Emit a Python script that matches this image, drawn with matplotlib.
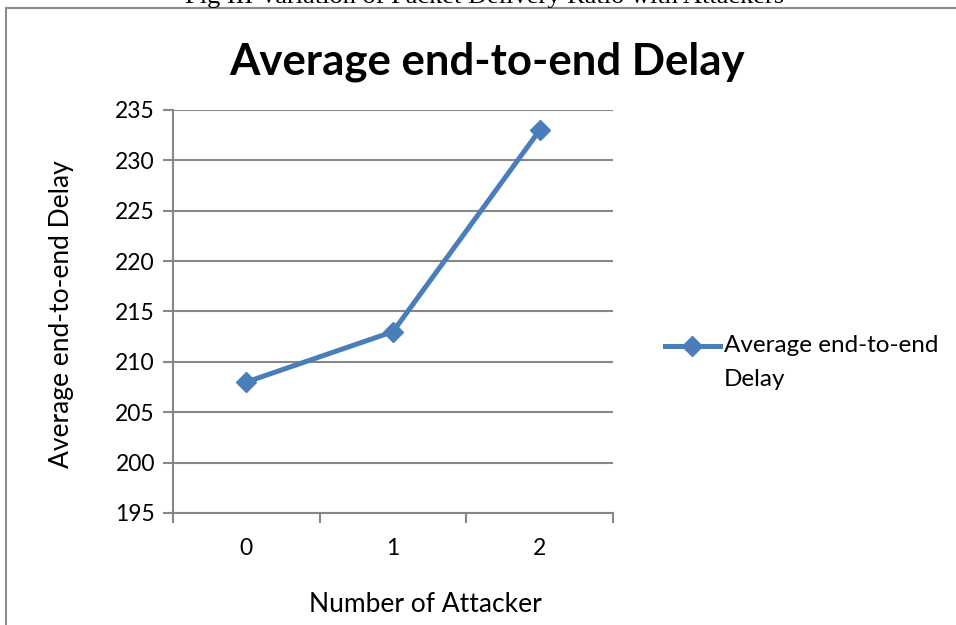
import matplotlib
matplotlib.use("Agg")
import matplotlib.pyplot as plt
from matplotlib.patches import Rectangle
from matplotlib.lines import Line2D

categories = ["0", "1", "2"]
delay = [208, 213, 233]
y_ticks = [195, 200, 205, 210, 215, 220, 225, 230, 235]

W, H = 956, 625
fig = plt.figure(figsize=(W / 100, H / 100), dpi=100)
fig.patch.set_facecolor("white")

FONT = ["Lato", "DejaVu Sans"]
blue = "#4A7EBB"
grid = "#878787"

# outer chart frame
fig.patches.append(Rectangle((6 / W, -0.05), 1.2, (625 - 8) / H + 0.05,
                             transform=fig.transFigure, fill=False,
                             edgecolor="#8c8c8c", linewidth=1.5))

# cut-off caption from the page above
fig.text(485 / W, 1.006, "Fig III Variation of Packet Delivery Ratio with Attackers",
         ha="center", va="center", fontsize=19, family="Liberation Serif")

ax = fig.add_axes([173 / W, (625 - 513) / H, (613 - 173) / W, (513 - 110) / H])
x = list(range(len(categories)))
ax.plot(x, delay, color=blue, linewidth=3.6, marker="D", markersize=10,
        markerfacecolor=blue, markeredgecolor=blue, zorder=3, clip_on=False)

ax.set_xlim(-0.5, 2.5)
ax.set_ylim(195, 235)
ax.set_yticks(y_ticks)
ax.set_xticks(x)
ax.set_xticklabels(categories)
ax.set_xticks([-0.5, 0.5, 1.5, 2.5], minor=True)
ax.tick_params(axis="x", which="major", length=0, pad=18, labelsize=16.5)
ax.tick_params(axis="x", which="minor", length=7, width=1.5, color=grid, direction="out")
ax.tick_params(axis="y", which="major", length=7, width=1.5, color=grid, pad=6, labelsize=16.5)
for lab in ax.get_xticklabels() + ax.get_yticklabels():
    lab.set_family(FONT)
ax.yaxis.grid(True, color=grid, linewidth=1.5)
ax.set_axisbelow(True)
for s in ["top", "right"]:
    ax.spines[s].set_visible(False)
for s in ["left", "bottom"]:
    ax.spines[s].set_color(grid)
    ax.spines[s].set_linewidth(1.5)

fig.text(487 / W, 1 - 62 / H, "Average end-to-end Delay", ha="center", va="center",
         fontsize=31.5, fontweight="bold", family=FONT)
fig.text(425 / W, 1 - 605 / H, "Number of Attacker", ha="center", va="center",
         fontsize=19, family=FONT)
fig.text(62 / W, 1 - 314 / H, "Average end-to-end Delay", ha="center", va="center",
         rotation=90, fontsize=19, family=FONT)

# legend
fig.lines.append(Line2D([665 / W, 720 / W], [1 - 346 / H] * 2, transform=fig.transFigure,
                        color=blue, linewidth=3.6))
fig.lines.append(Line2D([692 / W], [1 - 346 / H], transform=fig.transFigure, color=blue,
                        marker="D", markersize=10, linestyle="none"))
fig.text(724 / W, 1 - 346 / H, "Average end-to-end", ha="left", va="center",
         fontsize=17.5, family=FONT)
fig.text(724 / W, 1 - 380 / H, "Delay", ha="left", va="center", fontsize=17.5, family=FONT)

fig.savefig("out.png", dpi=100)
